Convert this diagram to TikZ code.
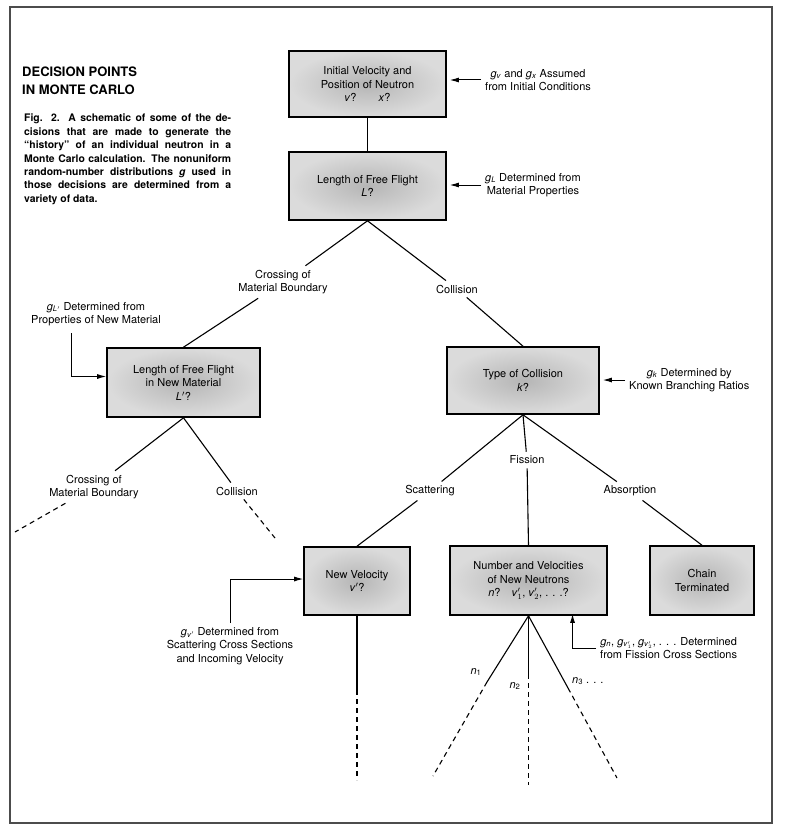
\documentclass[tikz,border=0pt]{standalone}
\usepackage{fontspec}
\setmainfont{TeX Gyre Heros}
\usetikzlibrary{arrows.meta}
\newcommand{\gi}{\textit{g}}
\newcommand{\vpr}[1]{\textit{v}$'_{#1}$}
\newcommand{\boxfont}{\fontsize{11}{13.5}\selectfont}
\newcommand{\capline}[1]{\makebox[207pt][s]{#1}}
\begin{document}
\begin{tikzpicture}[x=1pt,y=-1pt,
  dbox/.style={draw=black, line width=1.6pt, align=center, font=\boxfont, inner sep=0pt,
    path picture={\shade[inner color=gray!58, outer color=gray!28]
      (path picture bounding box.south west) rectangle (path picture bounding box.north east);}},
  lbl/.style={align=center, font=\boxfont, inner sep=4pt},
  conn/.style={line width=1.1pt, black},
  dsh/.style={conn, dash pattern=on 5pt off 4pt},
  arr/.style={line width=1pt, -{Latex[length=9pt,width=5pt]}}]

\useasboundingbox (0,0) rectangle (786,832);
\draw[line width=1.3pt, gray!60!black] (10,7) rectangle (772,823);

% title and caption
\node[anchor=west, font=\fontsize{13}{18}\selectfont\bfseries, align=left, inner sep=0pt] (title) at (22,81)
  {DECISION POINTS\\IN MONTE CARLO};
\node[anchor=north west, font=\fontsize{10.4}{13.4}\selectfont\bfseries, align=left, inner sep=0pt] (caption) at (24,114)
  {\capline{Fig. 2.\ \ A schematic of some of the de-}\\
   \capline{cisions that are made to generate the}\\
   \capline{``history'' of an individual neutron in a}\\
   \capline{Monte Carlo calculation. The nonuniform}\\
   \capline{random-number distributions \textit{g} used in}\\
   \capline{those decisions are determined from a}\\
   variety of data.};

% boxes
\node[dbox, minimum width=157pt, minimum height=66pt] (b1) at (367.5,84)
  {Initial Velocity and\\Position of Neutron\\\textit{v}?\qquad\textit{x}?};
\node[dbox, minimum width=157pt, minimum height=68pt] (b2) at (367.5,186)
  {Length of Free Flight\\\textit{L}?};
\node[dbox, minimum width=153pt, minimum height=69pt] (b3) at (183.5,382.5)
  {Length of Free Flight\\in New Material\\\textit{L}$'$?};
\node[dbox, minimum width=152pt, minimum height=67pt] (b4) at (523,380.5)
  {Type of Collision\\\textit{k}?};
\node[dbox, minimum width=106pt, minimum height=68pt] (b5) at (357,581)
  {New Velocity\\\textit{v}$'$?};
\node[dbox, minimum width=157pt, minimum height=69pt] (b6) at (528.5,580.5)
  {Number and Velocities\\of New Neutrons\\\textit{n}?\quad \vpr{1}, \vpr{2}, . . .?};
\node[dbox, minimum width=104pt, minimum height=69pt] (b7) at (702,580.5)
  {Chain\\Terminated};

% branch labels
\node[lbl] (lb1) at (283,282) {Crossing of\\Material Boundary};
\node[lbl] (lc1) at (457,289) {Collision};
\node[lbl] (lb2) at (94,487) {Crossing of\\Material Boundary};
\node[lbl] (lc2) at (237,491) {Collision};
\node[lbl] (ls) at (430,491) {Scattering};
\node[lbl] (lf) at (527,460) {Fission};
\node[lbl] (la) at (630,491) {Absorption};

% connectors
\draw[conn] (b1.south) -- (b2.north);
\draw[conn] (b2.south) -- (lb1);
\draw[conn] (lb1) -- (b3.north);
\draw[conn] (b2.south) -- (lc1);
\draw[conn] (lc1) -- (b4.north);

\coordinate (e1) at (15,532);
\coordinate (e2) at (275,538);
\draw[conn] (b3.south) -- (lb2);
\draw[dsh] (lb2) -- (e1);
\draw[conn] (b3.south) -- (lc2);
\draw[dsh] (lc2) -- (e2);

\draw[conn] (b4.south) -- (ls);
\draw[conn] (ls) -- (b5.north);
\draw[conn] (b4.south) -- (lf);
\draw[conn] (lf) -- (b6.north);
\draw[conn] (b4.south) -- (la);
\draw[conn] (la) -- (b7.north);

% new velocity continuation
\coordinate (s5) at (357,690);
\coordinate (e5) at (357,780);
\draw[conn] (b5.south) -- (s5);
\draw[dsh] (s5) -- (e5);

% fission neutrons
\coordinate (p1) at (487,682);
\coordinate (q1) at (433,776);
\coordinate (p2) at (528.5,678);
\coordinate (q2) at (528.5,785);
\coordinate (p3) at (568,688);
\coordinate (q3) at (617,778);
\draw[conn] (b6.south) -- (p1);
\draw[dsh] (p1) -- (q1);
\draw[conn] (b6.south) -- (p2);
\draw[dsh] ([yshift=4pt]p2) -- (q2);
\draw[conn] (b6.south) -- (p3);
\draw[dsh] (p3) -- (q3);
\node[font=\boxfont, inner sep=1pt] (n1) at (476,672) {\textit{n}\textsubscript{1}};
\node[font=\boxfont, inner sep=1pt] (n2) at (515,686) {\textit{n}\textsubscript{2}};
\node[font=\boxfont, inner sep=1pt, anchor=west] (n3) at (571,681) {\textit{n}\textsubscript{3} . . .};

% input arrows
\node[lbl, anchor=west] (l1) at (481,80) {\gi\textsubscript{\textit{v}} and \gi\textsubscript{\textit{x}} Assumed\\from Initial Conditions};
\draw[arr] (l1.west) -- ([xshift=3pt]b1.east |- l1.west);
\node[lbl, anchor=west] (l2) at (481,185) {\gi\textsubscript{\textit{L}} Determined from\\Material Properties};
\draw[arr] (l2.west) -- ([xshift=3pt]b2.east |- l2.west);
\node[lbl] (l3) at (96,314) {\gi\textsubscript{\textit{L}$'$} Determined from\\Properties of New Material};
\coordinate (c3) at (71,333);
\draw[arr] (c3) |- ([yshift=6pt]b3.west);
\node[lbl, anchor=west] (l4) at (625,380) {\gi\textsubscript{\textit{k}} Determined by\\Known Branching Ratios};
\draw[arr] (l4.west) -- ([xshift=3pt]b4.east |- l4.west);
\node[lbl] (l5) at (230,646) {\gi\textsubscript{\textit{v}$'$} Determined from\\Scattering Cross Sections\\and Incoming Velocity};
\draw[arr] (l5.north) |- ([yshift=2pt]b5.west);
\node[lbl, anchor=west] (l6) at (596,648) {\gi\textsubscript{\textit{n}}, \gi\textsubscript{\vpr{1}}, \gi\textsubscript{\vpr{2}}, . . . Determined\\from Fission Cross Sections};
\draw[arr] (l6.west) -| ([xshift=44pt,yshift=2pt]b6.south);
\end{tikzpicture}
\end{document}
